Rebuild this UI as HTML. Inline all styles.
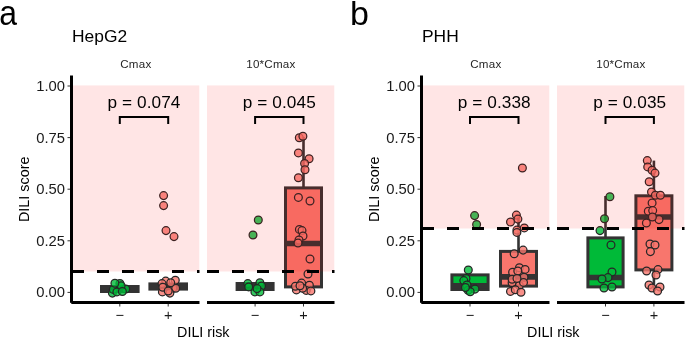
<!DOCTYPE html>
<html><head><meta charset="utf-8"><style>
html,body{margin:0;padding:0;background:#fff;}
svg{display:block;font-family:"Liberation Sans", sans-serif;will-change:transform;}
</style></head><body>
<svg width="685" height="338" viewBox="0 0 685 338">
<text x="0.0" y="25.4" font-size="35.5" transform="translate(-0.7,0) scale(0.9,1)">a</text>
<text x="72" y="41.5" font-size="17.4" text-anchor="start" fill="#000" >HepG2</text>
<text transform="translate(29.2,189.3) rotate(-90)" font-size="14.4" text-anchor="middle" fill="#000">DILI score</text>
<text x="65.0" y="297.4" font-size="14.8" text-anchor="end" fill="#1A1A1A" letter-spacing="0">0.00</text>
<line x1="67.5" y1="292.4" x2="70" y2="292.4" stroke="#333" stroke-width="1"/>
<text x="65.0" y="245.8" font-size="14.8" text-anchor="end" fill="#1A1A1A" letter-spacing="0">0.25</text>
<line x1="67.5" y1="240.8" x2="70" y2="240.8" stroke="#333" stroke-width="1"/>
<text x="65.0" y="194.2" font-size="14.8" text-anchor="end" fill="#1A1A1A" letter-spacing="0">0.50</text>
<line x1="67.5" y1="189.2" x2="70" y2="189.2" stroke="#333" stroke-width="1"/>
<text x="65.0" y="142.6" font-size="14.8" text-anchor="end" fill="#1A1A1A" letter-spacing="0">0.75</text>
<line x1="67.5" y1="137.6" x2="70" y2="137.6" stroke="#333" stroke-width="1"/>
<text x="65.0" y="91" font-size="14.8" text-anchor="end" fill="#1A1A1A" letter-spacing="0">1.00</text>
<line x1="67.5" y1="86" x2="70" y2="86" stroke="#333" stroke-width="1"/>
<text x="203.3" y="337.2" font-size="14.3" text-anchor="middle" fill="#000" >DILI risk</text>
<text x="135.85" y="68.3" font-size="11.6" text-anchor="middle" fill="#262626" letter-spacing="0.2">Cmax</text>
<rect x="101.5" y="286.5" width="36.6" height="5.0" fill="#00BA38" stroke="#333333" stroke-width="3.0"/>
<line x1="101.5" y1="289" x2="138.1" y2="289" stroke="#333333" stroke-width="5.6"/>
<rect x="149.9" y="283.9" width="36.6" height="5.2" fill="#F8766D" stroke="#333333" stroke-width="3.0"/>
<line x1="149.9" y1="286.5" x2="186.5" y2="286.5" stroke="#333333" stroke-width="5.6"/>
<circle cx="119.9" cy="283.4" r="3.9" fill="#00BA38" fill-opacity="0.8" stroke="#262626" stroke-width="1.25"/>
<circle cx="125.7" cy="289" r="3.9" fill="#00BA38" fill-opacity="0.8" stroke="#262626" stroke-width="1.25"/>
<circle cx="112.4" cy="293.1" r="3.9" fill="#00BA38" fill-opacity="0.8" stroke="#262626" stroke-width="1.25"/>
<circle cx="113.3" cy="289.4" r="3.9" fill="#00BA38" fill-opacity="0.8" stroke="#262626" stroke-width="1.25"/>
<circle cx="121.1" cy="285.7" r="3.9" fill="#00BA38" fill-opacity="0.8" stroke="#262626" stroke-width="1.25"/>
<circle cx="116.9" cy="291.9" r="3.9" fill="#00BA38" fill-opacity="0.8" stroke="#262626" stroke-width="1.25"/>
<circle cx="114.9" cy="283.2" r="3.9" fill="#00BA38" fill-opacity="0.8" stroke="#262626" stroke-width="1.25"/>
<circle cx="122.4" cy="291.5" r="3.9" fill="#00BA38" fill-opacity="0.8" stroke="#262626" stroke-width="1.25"/>
<circle cx="163.6" cy="195.6" r="3.9" fill="#F8766D" fill-opacity="0.8" stroke="#262626" stroke-width="1.25"/>
<circle cx="163.6" cy="205.6" r="3.9" fill="#F8766D" fill-opacity="0.8" stroke="#262626" stroke-width="1.25"/>
<circle cx="166" cy="230.6" r="3.9" fill="#F8766D" fill-opacity="0.8" stroke="#262626" stroke-width="1.25"/>
<circle cx="174" cy="236.6" r="3.9" fill="#F8766D" fill-opacity="0.8" stroke="#262626" stroke-width="1.25"/>
<circle cx="165.7" cy="281.1" r="3.9" fill="#F8766D" fill-opacity="0.8" stroke="#262626" stroke-width="1.25"/>
<circle cx="162" cy="283.6" r="3.9" fill="#F8766D" fill-opacity="0.8" stroke="#262626" stroke-width="1.25"/>
<circle cx="172.8" cy="288.2" r="3.9" fill="#F8766D" fill-opacity="0.8" stroke="#262626" stroke-width="1.25"/>
<circle cx="175.7" cy="288.2" r="3.9" fill="#F8766D" fill-opacity="0.8" stroke="#262626" stroke-width="1.25"/>
<circle cx="162.4" cy="291.9" r="3.9" fill="#F8766D" fill-opacity="0.8" stroke="#262626" stroke-width="1.25"/>
<circle cx="169.9" cy="293.1" r="3.9" fill="#F8766D" fill-opacity="0.8" stroke="#262626" stroke-width="1.25"/>
<circle cx="175.3" cy="280.3" r="3.9" fill="#F8766D" fill-opacity="0.8" stroke="#262626" stroke-width="1.25"/>
<circle cx="170.7" cy="282.8" r="3.9" fill="#F8766D" fill-opacity="0.8" stroke="#262626" stroke-width="1.25"/>
<circle cx="162.8" cy="287.3" r="3.9" fill="#F8766D" fill-opacity="0.8" stroke="#262626" stroke-width="1.25"/>
<circle cx="168.2" cy="291" r="3.9" fill="#F8766D" fill-opacity="0.8" stroke="#262626" stroke-width="1.25"/>
<rect x="72" y="85.4" width="127.3" height="186.1" fill="#FF0000" fill-opacity="0.1"/>
<line x1="72" y1="271.5" x2="199.5" y2="271.5" stroke="#000" stroke-width="3" stroke-dasharray="12 13"/>
<path d="M119.8 124 V117 H168.2 V124" fill="none" stroke="#000" stroke-width="2"/>
<text x="144.0" y="107.7" font-size="17.2" text-anchor="middle" fill="#000" letter-spacing="0.1">p = 0.074</text>
<line x1="71.3" y1="302.5" x2="199.5" y2="302.5" stroke="#000" stroke-width="3"/>
<line x1="119.8" y1="304" x2="119.8" y2="306.5" stroke="#333" stroke-width="1"/>
<text x="119.8" y="319.5" font-size="14.5" text-anchor="middle" fill="#1A1A1A" >−</text>
<line x1="168.2" y1="304" x2="168.2" y2="306.5" stroke="#333" stroke-width="1"/>
<text x="168.2" y="319.5" font-size="14.5" text-anchor="middle" fill="#1A1A1A" >+</text>
<text x="270.85" y="68.3" font-size="11.6" text-anchor="middle" fill="#262626" letter-spacing="0.2">10*Cmax</text>
<rect x="237.1" y="283.5" width="36" height="6.0" fill="#00BA38" stroke="#333333" stroke-width="3.0"/>
<line x1="237.1" y1="287" x2="273.1" y2="287" stroke="#333333" stroke-width="5.6"/>
<line x1="303.5" y1="187.9" x2="303.5" y2="137" stroke="#333333" stroke-width="2.6"/>
<line x1="303.5" y1="286.9" x2="303.5" y2="292" stroke="#333333" stroke-width="2.6"/>
<rect x="285.5" y="187.9" width="36.0" height="99" fill="#F8766D" stroke="#333333" stroke-width="3.0"/>
<line x1="285.5" y1="243.5" x2="321.5" y2="243.5" stroke="#333333" stroke-width="5.6"/>
<circle cx="258.3" cy="220" r="3.9" fill="#00BA38" fill-opacity="0.8" stroke="#262626" stroke-width="1.25"/>
<circle cx="253" cy="235" r="3.9" fill="#00BA38" fill-opacity="0.8" stroke="#262626" stroke-width="1.25"/>
<circle cx="247.8" cy="283.6" r="3.9" fill="#00BA38" fill-opacity="0.8" stroke="#262626" stroke-width="1.25"/>
<circle cx="248.7" cy="286.9" r="3.9" fill="#00BA38" fill-opacity="0.8" stroke="#262626" stroke-width="1.25"/>
<circle cx="259.9" cy="282.8" r="3.9" fill="#00BA38" fill-opacity="0.8" stroke="#262626" stroke-width="1.25"/>
<circle cx="261.5" cy="286.1" r="3.9" fill="#00BA38" fill-opacity="0.8" stroke="#262626" stroke-width="1.25"/>
<circle cx="254.9" cy="291.9" r="3.9" fill="#00BA38" fill-opacity="0.8" stroke="#262626" stroke-width="1.25"/>
<circle cx="259.9" cy="291.9" r="3.9" fill="#00BA38" fill-opacity="0.8" stroke="#262626" stroke-width="1.25"/>
<circle cx="257" cy="288.6" r="3.9" fill="#00BA38" fill-opacity="0.8" stroke="#262626" stroke-width="1.25"/>
<circle cx="299.3" cy="137.8" r="3.9" fill="#F8766D" fill-opacity="0.8" stroke="#262626" stroke-width="1.25"/>
<circle cx="302.9" cy="136.3" r="3.9" fill="#F8766D" fill-opacity="0.8" stroke="#262626" stroke-width="1.25"/>
<circle cx="298.4" cy="152.9" r="3.9" fill="#F8766D" fill-opacity="0.8" stroke="#262626" stroke-width="1.25"/>
<circle cx="309.1" cy="158.7" r="3.9" fill="#F8766D" fill-opacity="0.8" stroke="#262626" stroke-width="1.25"/>
<circle cx="304.6" cy="163.5" r="3.9" fill="#F8766D" fill-opacity="0.8" stroke="#262626" stroke-width="1.25"/>
<circle cx="305" cy="169.7" r="3.9" fill="#F8766D" fill-opacity="0.8" stroke="#262626" stroke-width="1.25"/>
<circle cx="298.4" cy="177.7" r="3.9" fill="#F8766D" fill-opacity="0.8" stroke="#262626" stroke-width="1.25"/>
<circle cx="298.4" cy="197.4" r="3.9" fill="#F8766D" fill-opacity="0.8" stroke="#262626" stroke-width="1.25"/>
<circle cx="310" cy="201" r="3.9" fill="#F8766D" fill-opacity="0.8" stroke="#262626" stroke-width="1.25"/>
<circle cx="299.4" cy="229.4" r="3.9" fill="#F8766D" fill-opacity="0.8" stroke="#262626" stroke-width="1.25"/>
<circle cx="302" cy="230.6" r="3.9" fill="#F8766D" fill-opacity="0.8" stroke="#262626" stroke-width="1.25"/>
<circle cx="303" cy="236" r="3.9" fill="#F8766D" fill-opacity="0.8" stroke="#262626" stroke-width="1.25"/>
<circle cx="299" cy="240" r="3.9" fill="#F8766D" fill-opacity="0.8" stroke="#262626" stroke-width="1.25"/>
<circle cx="298" cy="243" r="3.9" fill="#F8766D" fill-opacity="0.8" stroke="#262626" stroke-width="1.25"/>
<circle cx="310" cy="259" r="3.9" fill="#F8766D" fill-opacity="0.8" stroke="#262626" stroke-width="1.25"/>
<circle cx="308" cy="274" r="3.9" fill="#F8766D" fill-opacity="0.8" stroke="#262626" stroke-width="1.25"/>
<circle cx="301.6" cy="283.1" r="3.9" fill="#F8766D" fill-opacity="0.8" stroke="#262626" stroke-width="1.25"/>
<circle cx="309.4" cy="285.2" r="3.9" fill="#F8766D" fill-opacity="0.8" stroke="#262626" stroke-width="1.25"/>
<circle cx="296.4" cy="289.9" r="3.9" fill="#F8766D" fill-opacity="0.8" stroke="#262626" stroke-width="1.25"/>
<circle cx="306.2" cy="290.4" r="3.9" fill="#F8766D" fill-opacity="0.8" stroke="#262626" stroke-width="1.25"/>
<circle cx="310.9" cy="290.9" r="3.9" fill="#F8766D" fill-opacity="0.8" stroke="#262626" stroke-width="1.25"/>
<circle cx="295.4" cy="286.2" r="3.9" fill="#F8766D" fill-opacity="0.8" stroke="#262626" stroke-width="1.25"/>
<circle cx="302.6" cy="288.3" r="3.9" fill="#F8766D" fill-opacity="0.8" stroke="#262626" stroke-width="1.25"/>
<circle cx="300" cy="285.7" r="3.9" fill="#F8766D" fill-opacity="0.8" stroke="#262626" stroke-width="1.25"/>
<rect x="207" y="85.4" width="127.3" height="186.1" fill="#FF0000" fill-opacity="0.1"/>
<line x1="207" y1="271.5" x2="334.5" y2="271.5" stroke="#000" stroke-width="3" stroke-dasharray="12 13"/>
<path d="M255.1 124 V117 H303.5 V124" fill="none" stroke="#000" stroke-width="2"/>
<text x="279.3" y="107.7" font-size="17.2" text-anchor="middle" fill="#000" letter-spacing="0.1">p = 0.045</text>
<line x1="207" y1="302.5" x2="334.5" y2="302.5" stroke="#000" stroke-width="3"/>
<line x1="255.1" y1="304" x2="255.1" y2="306.5" stroke="#333" stroke-width="1"/>
<text x="255.1" y="319.5" font-size="14.5" text-anchor="middle" fill="#1A1A1A" >−</text>
<line x1="303.5" y1="304" x2="303.5" y2="306.5" stroke="#333" stroke-width="1"/>
<text x="303.5" y="319.5" font-size="14.5" text-anchor="middle" fill="#1A1A1A" >+</text>
<line x1="71.5" y1="75.5" x2="71.5" y2="302.8" stroke="#000" stroke-width="3"/>
<text x="350.0" y="25.3" font-size="34" transform="">b</text>
<text x="422" y="41.5" font-size="17.4" text-anchor="start" fill="#000" >PHH</text>
<text transform="translate(379.2,189.3) rotate(-90)" font-size="14.4" text-anchor="middle" fill="#000">DILI score</text>
<text x="415.0" y="297.4" font-size="14.8" text-anchor="end" fill="#1A1A1A" letter-spacing="0">0.00</text>
<line x1="417.5" y1="292.4" x2="420" y2="292.4" stroke="#333" stroke-width="1"/>
<text x="415.0" y="245.8" font-size="14.8" text-anchor="end" fill="#1A1A1A" letter-spacing="0">0.25</text>
<line x1="417.5" y1="240.8" x2="420" y2="240.8" stroke="#333" stroke-width="1"/>
<text x="415.0" y="194.2" font-size="14.8" text-anchor="end" fill="#1A1A1A" letter-spacing="0">0.50</text>
<line x1="417.5" y1="189.2" x2="420" y2="189.2" stroke="#333" stroke-width="1"/>
<text x="415.0" y="142.6" font-size="14.8" text-anchor="end" fill="#1A1A1A" letter-spacing="0">0.75</text>
<line x1="417.5" y1="137.6" x2="420" y2="137.6" stroke="#333" stroke-width="1"/>
<text x="415.0" y="91" font-size="14.8" text-anchor="end" fill="#1A1A1A" letter-spacing="0">1.00</text>
<line x1="417.5" y1="86" x2="420" y2="86" stroke="#333" stroke-width="1"/>
<text x="553.3" y="337.2" font-size="14.3" text-anchor="middle" fill="#000" >DILI risk</text>
<text x="485.85" y="68.3" font-size="11.6" text-anchor="middle" fill="#262626" letter-spacing="0.2">Cmax</text>
<rect x="451.9" y="274.9" width="36.2" height="14.6" fill="#00BA38" stroke="#333333" stroke-width="3.0"/>
<line x1="451.9" y1="285.7" x2="488.1" y2="285.7" stroke="#333333" stroke-width="5.6"/>
<line x1="518.5" y1="251.4" x2="518.5" y2="215" stroke="#333333" stroke-width="2.6"/>
<rect x="500.5" y="251.4" width="36.0" height="34.7" fill="#F8766D" stroke="#333333" stroke-width="3.0"/>
<line x1="500.5" y1="276.9" x2="536.5" y2="276.9" stroke="#333333" stroke-width="5.6"/>
<circle cx="474.6" cy="215.6" r="3.9" fill="#00BA38" fill-opacity="0.8" stroke="#262626" stroke-width="1.25"/>
<circle cx="476.6" cy="224.4" r="3.9" fill="#00BA38" fill-opacity="0.8" stroke="#262626" stroke-width="1.25"/>
<circle cx="468.3" cy="270" r="3.9" fill="#00BA38" fill-opacity="0.8" stroke="#262626" stroke-width="1.25"/>
<circle cx="466" cy="278.5" r="3.9" fill="#00BA38" fill-opacity="0.8" stroke="#262626" stroke-width="1.25"/>
<circle cx="463.8" cy="280.6" r="3.9" fill="#00BA38" fill-opacity="0.8" stroke="#262626" stroke-width="1.25"/>
<circle cx="467" cy="284.9" r="3.9" fill="#00BA38" fill-opacity="0.8" stroke="#262626" stroke-width="1.25"/>
<circle cx="468.1" cy="290.2" r="3.9" fill="#00BA38" fill-opacity="0.8" stroke="#262626" stroke-width="1.25"/>
<circle cx="475" cy="289.1" r="3.9" fill="#00BA38" fill-opacity="0.8" stroke="#262626" stroke-width="1.25"/>
<circle cx="470.2" cy="291.8" r="3.9" fill="#00BA38" fill-opacity="0.8" stroke="#262626" stroke-width="1.25"/>
<circle cx="465.4" cy="287.5" r="3.9" fill="#00BA38" fill-opacity="0.8" stroke="#262626" stroke-width="1.25"/>
<circle cx="522.4" cy="168" r="3.9" fill="#F8766D" fill-opacity="0.8" stroke="#262626" stroke-width="1.25"/>
<circle cx="516.4" cy="215.1" r="3.9" fill="#F8766D" fill-opacity="0.8" stroke="#262626" stroke-width="1.25"/>
<circle cx="517.9" cy="219.1" r="3.9" fill="#F8766D" fill-opacity="0.8" stroke="#262626" stroke-width="1.25"/>
<circle cx="510.5" cy="222" r="3.9" fill="#F8766D" fill-opacity="0.8" stroke="#262626" stroke-width="1.25"/>
<circle cx="524.3" cy="227.9" r="3.9" fill="#F8766D" fill-opacity="0.8" stroke="#262626" stroke-width="1.25"/>
<circle cx="516.9" cy="230.1" r="3.9" fill="#F8766D" fill-opacity="0.8" stroke="#262626" stroke-width="1.25"/>
<circle cx="516.9" cy="232.4" r="3.9" fill="#F8766D" fill-opacity="0.8" stroke="#262626" stroke-width="1.25"/>
<circle cx="523.1" cy="250.1" r="3.9" fill="#F8766D" fill-opacity="0.8" stroke="#262626" stroke-width="1.25"/>
<circle cx="514.2" cy="253.8" r="3.9" fill="#F8766D" fill-opacity="0.8" stroke="#262626" stroke-width="1.25"/>
<circle cx="519.4" cy="267.8" r="3.9" fill="#F8766D" fill-opacity="0.8" stroke="#262626" stroke-width="1.25"/>
<circle cx="525.1" cy="269.4" r="3.9" fill="#F8766D" fill-opacity="0.8" stroke="#262626" stroke-width="1.25"/>
<circle cx="512.6" cy="272.3" r="3.9" fill="#F8766D" fill-opacity="0.8" stroke="#262626" stroke-width="1.25"/>
<circle cx="517.8" cy="271" r="3.9" fill="#F8766D" fill-opacity="0.8" stroke="#262626" stroke-width="1.25"/>
<circle cx="524" cy="277.2" r="3.9" fill="#F8766D" fill-opacity="0.8" stroke="#262626" stroke-width="1.25"/>
<circle cx="512.1" cy="282.8" r="3.9" fill="#F8766D" fill-opacity="0.8" stroke="#262626" stroke-width="1.25"/>
<circle cx="519.4" cy="285.4" r="3.9" fill="#F8766D" fill-opacity="0.8" stroke="#262626" stroke-width="1.25"/>
<circle cx="523.5" cy="282.4" r="3.9" fill="#F8766D" fill-opacity="0.8" stroke="#262626" stroke-width="1.25"/>
<circle cx="510.5" cy="291.4" r="3.9" fill="#F8766D" fill-opacity="0.8" stroke="#262626" stroke-width="1.25"/>
<circle cx="515.3" cy="289.8" r="3.9" fill="#F8766D" fill-opacity="0.8" stroke="#262626" stroke-width="1.25"/>
<circle cx="521" cy="292.2" r="3.9" fill="#F8766D" fill-opacity="0.8" stroke="#262626" stroke-width="1.25"/>
<circle cx="512.1" cy="279.2" r="3.9" fill="#F8766D" fill-opacity="0.8" stroke="#262626" stroke-width="1.25"/>
<circle cx="517" cy="278.4" r="3.9" fill="#F8766D" fill-opacity="0.8" stroke="#262626" stroke-width="1.25"/>
<rect x="422" y="85.4" width="127.3" height="143.1" fill="#FF0000" fill-opacity="0.1"/>
<line x1="422" y1="228.5" x2="549.5" y2="228.5" stroke="#000" stroke-width="3" stroke-dasharray="12 13"/>
<path d="M470.0 124 V117 H518.5 V124" fill="none" stroke="#000" stroke-width="2"/>
<text x="494.25" y="107.7" font-size="17.2" text-anchor="middle" fill="#000" letter-spacing="0.1">p = 0.338</text>
<line x1="421.3" y1="302.5" x2="549.5" y2="302.5" stroke="#000" stroke-width="3"/>
<line x1="470.0" y1="304" x2="470.0" y2="306.5" stroke="#333" stroke-width="1"/>
<text x="470.0" y="319.5" font-size="14.5" text-anchor="middle" fill="#1A1A1A" >−</text>
<line x1="518.5" y1="304" x2="518.5" y2="306.5" stroke="#333" stroke-width="1"/>
<text x="518.5" y="319.5" font-size="14.5" text-anchor="middle" fill="#1A1A1A" >+</text>
<text x="620.85" y="68.3" font-size="11.6" text-anchor="middle" fill="#262626" letter-spacing="0.2">10*Cmax</text>
<line x1="605.5" y1="237.9" x2="605.5" y2="196" stroke="#333333" stroke-width="2.6"/>
<rect x="587.9" y="237.9" width="35.2" height="49" fill="#00BA38" stroke="#333333" stroke-width="3.0"/>
<line x1="587.9" y1="277.5" x2="623.1" y2="277.5" stroke="#333333" stroke-width="5.6"/>
<line x1="653.9" y1="195.8" x2="653.9" y2="160.6" stroke="#333333" stroke-width="2.6"/>
<line x1="653.9" y1="269.9" x2="653.9" y2="290" stroke="#333333" stroke-width="2.6"/>
<rect x="635.9" y="195.8" width="36.0" height="74.1" fill="#F8766D" stroke="#333333" stroke-width="3.0"/>
<line x1="635.9" y1="217" x2="671.9" y2="217" stroke="#333333" stroke-width="5.6"/>
<circle cx="609.9" cy="196.7" r="3.9" fill="#00BA38" fill-opacity="0.8" stroke="#262626" stroke-width="1.25"/>
<circle cx="604.5" cy="218.8" r="3.9" fill="#00BA38" fill-opacity="0.8" stroke="#262626" stroke-width="1.25"/>
<circle cx="600" cy="230.6" r="3.9" fill="#00BA38" fill-opacity="0.8" stroke="#262626" stroke-width="1.25"/>
<circle cx="611" cy="245" r="3.9" fill="#00BA38" fill-opacity="0.8" stroke="#262626" stroke-width="1.25"/>
<circle cx="612" cy="272" r="3.9" fill="#00BA38" fill-opacity="0.8" stroke="#262626" stroke-width="1.25"/>
<circle cx="608" cy="277.6" r="3.9" fill="#00BA38" fill-opacity="0.8" stroke="#262626" stroke-width="1.25"/>
<circle cx="602" cy="279" r="3.9" fill="#00BA38" fill-opacity="0.8" stroke="#262626" stroke-width="1.25"/>
<circle cx="604" cy="288" r="3.9" fill="#00BA38" fill-opacity="0.8" stroke="#262626" stroke-width="1.25"/>
<circle cx="612" cy="287" r="3.9" fill="#00BA38" fill-opacity="0.8" stroke="#262626" stroke-width="1.25"/>
<circle cx="647.3" cy="160.6" r="3.9" fill="#F8766D" fill-opacity="0.8" stroke="#262626" stroke-width="1.25"/>
<circle cx="647.7" cy="166.9" r="3.9" fill="#F8766D" fill-opacity="0.8" stroke="#262626" stroke-width="1.25"/>
<circle cx="652.1" cy="170.2" r="3.9" fill="#F8766D" fill-opacity="0.8" stroke="#262626" stroke-width="1.25"/>
<circle cx="655" cy="173.1" r="3.9" fill="#F8766D" fill-opacity="0.8" stroke="#262626" stroke-width="1.25"/>
<circle cx="649.2" cy="181.7" r="3.9" fill="#F8766D" fill-opacity="0.8" stroke="#262626" stroke-width="1.25"/>
<circle cx="651.5" cy="191.9" r="3.9" fill="#F8766D" fill-opacity="0.8" stroke="#262626" stroke-width="1.25"/>
<circle cx="655.4" cy="195.2" r="3.9" fill="#F8766D" fill-opacity="0.8" stroke="#262626" stroke-width="1.25"/>
<circle cx="660.4" cy="195.2" r="3.9" fill="#F8766D" fill-opacity="0.8" stroke="#262626" stroke-width="1.25"/>
<circle cx="652.1" cy="202.9" r="3.9" fill="#F8766D" fill-opacity="0.8" stroke="#262626" stroke-width="1.25"/>
<circle cx="648.3" cy="211.2" r="3.9" fill="#F8766D" fill-opacity="0.8" stroke="#262626" stroke-width="1.25"/>
<circle cx="652.7" cy="210.6" r="3.9" fill="#F8766D" fill-opacity="0.8" stroke="#262626" stroke-width="1.25"/>
<circle cx="659" cy="219.6" r="3.9" fill="#F8766D" fill-opacity="0.8" stroke="#262626" stroke-width="1.25"/>
<circle cx="646.4" cy="223" r="3.9" fill="#F8766D" fill-opacity="0.8" stroke="#262626" stroke-width="1.25"/>
<circle cx="652.4" cy="217" r="3.9" fill="#F8766D" fill-opacity="0.8" stroke="#262626" stroke-width="1.25"/>
<circle cx="650" cy="244" r="3.9" fill="#F8766D" fill-opacity="0.8" stroke="#262626" stroke-width="1.25"/>
<circle cx="655" cy="245" r="3.9" fill="#F8766D" fill-opacity="0.8" stroke="#262626" stroke-width="1.25"/>
<circle cx="650.4" cy="251.6" r="3.9" fill="#F8766D" fill-opacity="0.8" stroke="#262626" stroke-width="1.25"/>
<circle cx="646.6" cy="271" r="3.9" fill="#F8766D" fill-opacity="0.8" stroke="#262626" stroke-width="1.25"/>
<circle cx="658" cy="269.6" r="3.9" fill="#F8766D" fill-opacity="0.8" stroke="#262626" stroke-width="1.25"/>
<circle cx="656" cy="275" r="3.9" fill="#F8766D" fill-opacity="0.8" stroke="#262626" stroke-width="1.25"/>
<circle cx="649" cy="285" r="3.9" fill="#F8766D" fill-opacity="0.8" stroke="#262626" stroke-width="1.25"/>
<circle cx="660" cy="287" r="3.9" fill="#F8766D" fill-opacity="0.8" stroke="#262626" stroke-width="1.25"/>
<circle cx="652" cy="288" r="3.9" fill="#F8766D" fill-opacity="0.8" stroke="#262626" stroke-width="1.25"/>
<circle cx="657.6" cy="291" r="3.9" fill="#F8766D" fill-opacity="0.8" stroke="#262626" stroke-width="1.25"/>
<rect x="557" y="85.4" width="127.3" height="143.1" fill="#FF0000" fill-opacity="0.1"/>
<line x1="557" y1="228.5" x2="684.5" y2="228.5" stroke="#000" stroke-width="3" stroke-dasharray="12 13"/>
<path d="M605.5 124 V117 H653.9 V124" fill="none" stroke="#000" stroke-width="2"/>
<text x="629.7" y="107.7" font-size="17.2" text-anchor="middle" fill="#000" letter-spacing="0.1">p = 0.035</text>
<line x1="557" y1="302.5" x2="684.5" y2="302.5" stroke="#000" stroke-width="3"/>
<line x1="605.5" y1="304" x2="605.5" y2="306.5" stroke="#333" stroke-width="1"/>
<text x="605.5" y="319.5" font-size="14.5" text-anchor="middle" fill="#1A1A1A" >−</text>
<line x1="653.9" y1="304" x2="653.9" y2="306.5" stroke="#333" stroke-width="1"/>
<text x="653.9" y="319.5" font-size="14.5" text-anchor="middle" fill="#1A1A1A" >+</text>
<line x1="421.5" y1="75.5" x2="421.5" y2="302.8" stroke="#000" stroke-width="3"/>
</svg>
</body></html>
